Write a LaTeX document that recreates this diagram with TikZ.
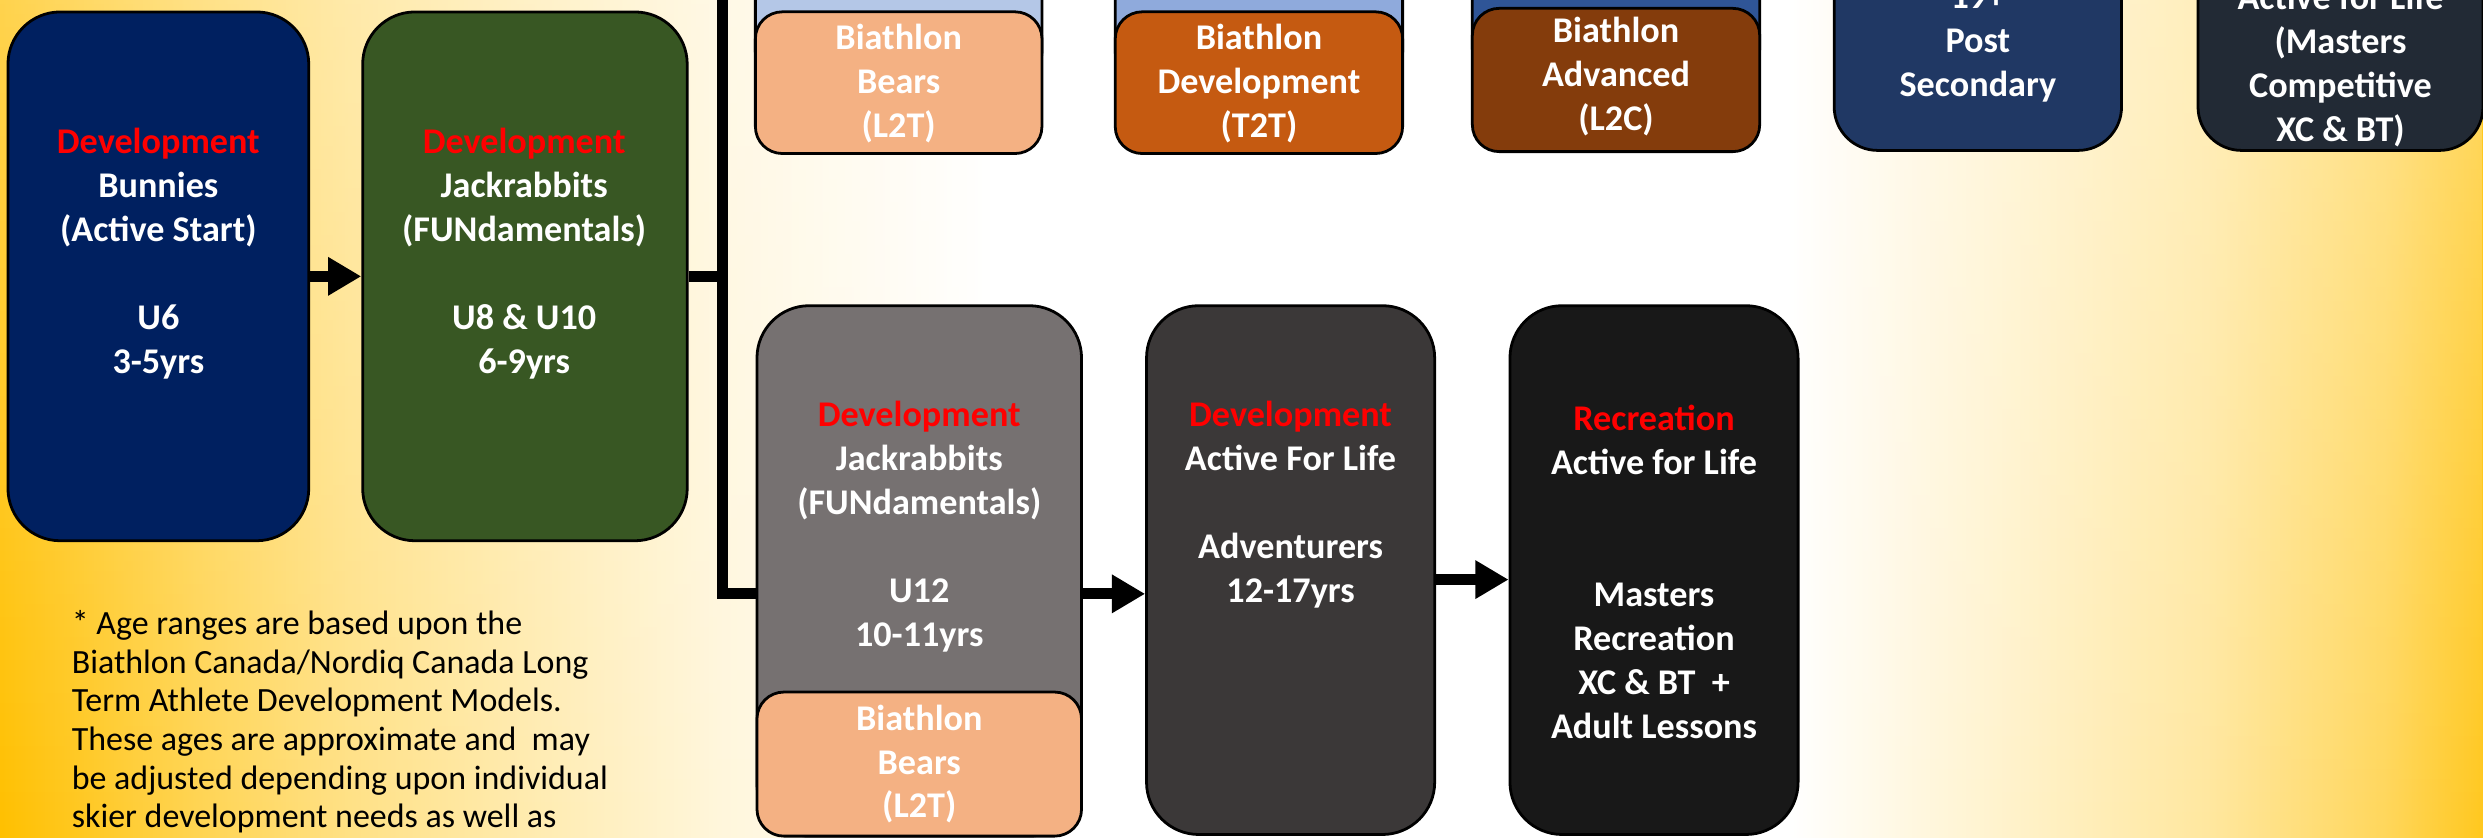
\documentclass[tikz,border=0pt]{standalone}
\usepackage{fontspec}
\setmainfont{Carlito}
\usetikzlibrary{arrows.meta,fadings}

\definecolor{bggold}{HTML}{FFC000}
\definecolor{lvlred}{HTML}{FF0000}
\definecolor{bunnyblue}{HTML}{002060}
\definecolor{jackgreen}{HTML}{385723}
\definecolor{bearpeach}{HTML}{F4B183}
\definecolor{devorange}{HTML}{C55A11}
\definecolor{advbrown}{HTML}{843C0C}
\definecolor{skyA}{HTML}{B4C7E7}
\definecolor{skyB}{HTML}{8FAADC}
\definecolor{skyC}{HTML}{2F5597}
\definecolor{postblue}{HTML}{203864}
\definecolor{masterslate}{HTML}{222A35}
\definecolor{ugray}{HTML}{767171}
\definecolor{aflgray}{HTML}{3B3838}
\definecolor{recblack}{HTML}{181818}

% the picture's width runs from 25bp to 75bp of the shading
\pgfdeclarehorizontalshading{bgband}{100bp}{color(0bp)=(bggold); color(25bp)=(bggold); color(29bp)=(bggold!68!white); color(32bp)=(bggold!48!white); color(39.5bp)=(bggold!14!white); color(45bp)=(white); color(61bp)=(white); color(63.5bp)=(bggold!12!white); color(69.5bp)=(bggold!38!white); color(73bp)=(bggold!64!white); color(75bp)=(bggold!88!white); color(100bp)=(bggold!88!white)}
\def\lvl#1{\textcolor{lvlred}{#1}}

\tikzset{
	stage/.style={draw=black, line width=1pt, rounded corners=0.66cm, inner sep=0pt, minimum height=6.68cm},
	tab/.style={draw=black, line width=1pt, rounded corners=0.34cm, inner sep=0pt},
	boxtext/.style={text=white, align=center, inner sep=0pt, font=\fontsize{13pt}{15.8pt}\selectfont\bfseries},
	feed/.style={line width=4pt},
	flow/.style={line width=4pt, -{Triangle[length=0.42cm, width=0.46cm]}},
	note/.style={align=left, anchor=north west, inner sep=0pt, font=\fontsize{12.2pt}{13.9pt}\selectfont}
}

\begin{document}
\begin{tikzpicture}[x=0.02cm, y=-0.02cm]
			%%%%% START %%%%%
			
			\useasboundingbox (0, 0) rectangle (1568, 529);
			\clip (0, 0) rectangle (1568, 529);
			\shade[shading=bgband] (0, 0) rectangle (1568, 529);
			\fill[white, path fading=south, fill opacity=0.3] (0, 0) rectangle (1568, 529);
			
			% first row
			\node[stage, fill=bunnyblue, minimum width=3.8cm] (bunnies) at (100, 174.5) {};
			\node[boxtext] (bunnies-t) at (100, 160) {\lvl{Development}\\Bunnies\\(Active Start)\\[\baselineskip]U6\\3-5yrs};
			
			\node[stage, fill=jackgreen, minimum width=4.1cm] (jack) at (331.5, 174.5) {};
			\node[boxtext] (jack-t) at (331, 160) {\lvl{Development}\\Jackrabbits\\(FUNdamentals)\\[\baselineskip]U8 \& U10\\6-9yrs};
			
			% biathlon tabs, top row
			\node[tab, fill=skyA, minimum width=3.62cm, minimum height=2.6cm] (bears-sky) at (567.5, -15) {};
			\node[tab, fill=bearpeach, minimum width=3.62cm, minimum height=1.79cm] (bears) at (567.5, 52.2) {};
			\node[boxtext] (bears-t) at (567.5, 52.5) {Biathlon\\Bears\\(L2T)};
			
			\node[tab, fill=skyB, minimum width=3.63cm, minimum height=2.6cm] (devbt-sky) at (795, -15) {};
			\node[tab, fill=devorange, minimum width=3.63cm, minimum height=1.79cm] (devbt) at (795, 52.2) {};
			\node[boxtext] (devbt-t) at (795, 52.5) {Biathlon\\Development\\(T2T)};
			
			\node[tab, fill=skyC, minimum width=3.63cm, minimum height=2.6cm] (advbt-sky) at (1020.5, -17) {};
			\node[tab, fill=advbrown, minimum width=3.63cm, minimum height=1.81cm] (advbt) at (1020.5, 50.5) {};
			\node[boxtext] (advbt-t) at (1020.5, 48.5) {Biathlon\\Advanced\\(L2C)};
			
			\node[stage, fill=postblue, rounded corners=0.55cm, minimum width=3.63cm, minimum height=3.1cm] (post) at (1249, 17.5) {};
			\node[boxtext] (post-t) at (1249, 27.5) {19+\\Post\\Secondary};
			
			\node[stage, fill=masterslate, rounded corners=0.55cm, minimum width=3.6cm, minimum height=3.1cm] (masters) at (1478, 17.5) {};
			\node[boxtext] (masters-t) at (1478, 41.5) {Active for Life\\(Masters\\Competitive\\XC \& BT)};
			
			% second row
			\node[stage, fill=ugray, minimum width=4.1cm, minimum height=6.7cm] (u12) at (580.5, 360.5) {};
			\node[boxtext] (u12-t) at (580.5, 332.5) {\lvl{Development}\\Jackrabbits\\(FUNdamentals)\\[\baselineskip]U12\\10-11yrs};
			\node[tab, fill=bearpeach, minimum width=4.1cm, minimum height=1.82cm] (bears2) at (580.5, 482.5) {};
			\node[boxtext] (bears2-t) at (580.5, 482.5) {Biathlon\\Bears\\(L2T)};
			
			\node[stage, fill=aflgray, minimum width=3.64cm] (afl) at (815, 360) {};
			\node[boxtext] (afl-t) at (815, 318.5) {\lvl{Development}\\Active For Life\\[\baselineskip]Adventurers\\12-17yrs};
			
			\node[stage, fill=recblack, minimum width=3.64cm] (rec) at (1044.5, 360) {};
			\node[boxtext] (rec-t) at (1044.5, 361) {\lvl{Recreation}\\Active for Life\\[2\baselineskip]Masters\\Recreation\\XC \& BT\ \ +\\Adult Lessons};
			
			% connectors
			\coordinate (bustop) at (456, -20);
			\coordinate (busend) at (456, 375);
			\draw[feed] (jack.east) -- (jack.east -| bustop);
			\draw[feed] (bustop) -- (busend) -- (busend -| u12.west);
			
			\draw[flow] (bunnies.east) -- (jack.west);
			\draw[flow] (u12.east |- busend) -- (afl.west |- busend);
			\draw[flow] ([yshift=-0.12cm]afl.east) -- ([yshift=-0.12cm]rec.west);
			
			\node[note] (agenote) at (45, 385) {* Age ranges are based upon the\\Biathlon Canada/Nordiq Canada Long\\Term Athlete Development Models.\\These ages are approximate and\ \ may\\be adjusted depending upon individual\\skier development needs as well as};
			
			%%%%% END %%%%%
\end{tikzpicture}
\end{document}
